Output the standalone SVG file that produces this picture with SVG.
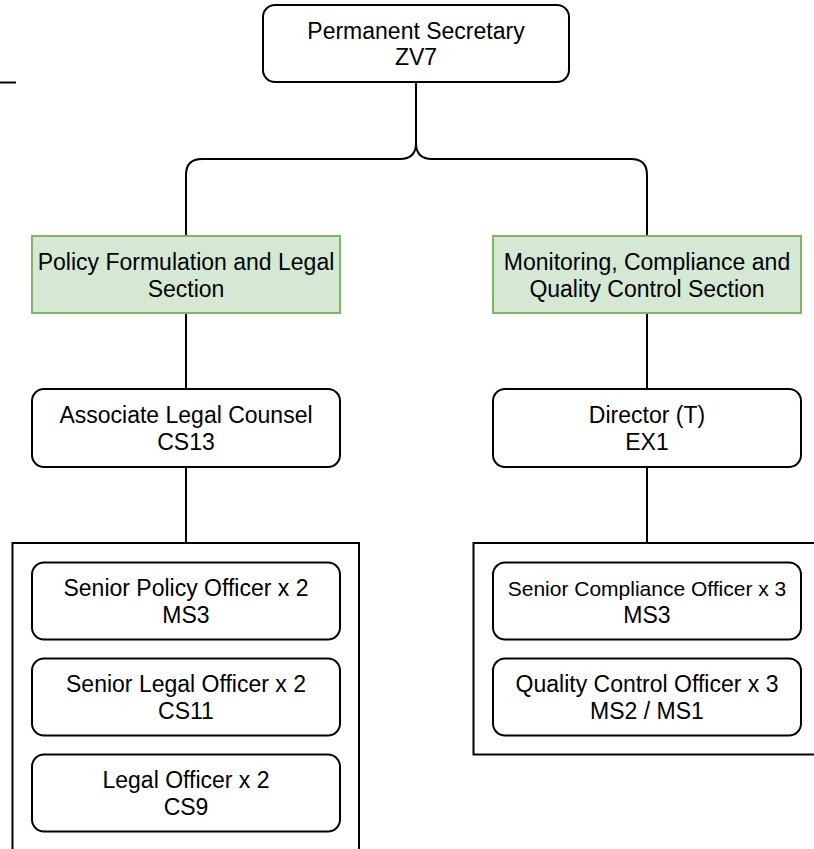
<svg xmlns="http://www.w3.org/2000/svg" width="814" height="849" viewBox="0 0 814 849">
<style>
.n{fill:#fff;stroke:#000;stroke-width:2}
.g{fill:#d5e8d4;stroke:#82b366;stroke-width:2}
.c{fill:#fff;stroke:#000;stroke-width:2}
.e{fill:none;stroke:#000;stroke-width:2}
text{font-family:"Liberation Sans",Arial,sans-serif;font-size:23px;fill:#000;text-anchor:middle}
.s{font-size:21px}
</style>
<rect width="814" height="849" fill="#fff"/>
<line x1="0" y1="82.5" x2="16" y2="82.5" stroke="#000" stroke-width="2"/>
<g id="connectors">
<path class="e" d="M416 82 V143 Q416 159 400 159 H202 Q186 159 186 175 V236"/>
<path class="e" d="M416 143 Q416 159 432 159 H631 Q647 159 647 175 V236"/>
<path class="e" d="M186 313 V389"/>
<path class="e" d="M647 313 V389"/>
<path class="e" d="M186 467 V543"/>
<path class="e" d="M647 467 V543"/>
</g>
<g id="container-left"><rect class="c" x="12.5" y="543" width="346.5" height="320"/></g>
<g id="container-right"><rect class="c" x="473.5" y="543" width="360" height="211.5"/></g>
<g id="permanent-secretary">
<rect class="n" x="263" y="5" width="306" height="77" rx="12"/>
<text x="416" y="38.5">Permanent Secretary</text>
<text x="416" y="65">ZV7</text>
</g>
<g id="policy-section">
<rect class="g" x="32" y="236" width="308" height="77"/>
<text x="186" y="270">Policy Formulation and Legal</text>
<text x="186" y="296.5">Section</text>
</g>
<g id="monitoring-section">
<rect class="g" x="493" y="236" width="308" height="77"/>
<text x="647" y="270">Monitoring, Compliance and</text>
<text x="647" y="296.5">Quality Control Section</text>
</g>
<g id="associate-legal-counsel">
<rect class="n" x="32" y="389" width="308" height="78" rx="12"/>
<text x="186" y="422.5">Associate Legal Counsel</text>
<text x="186" y="449.5">CS13</text>
</g>
<g id="director">
<rect class="n" x="493" y="389" width="308" height="78" rx="12"/>
<text x="647" y="422.5">Director (T)</text>
<text x="647" y="449.5">EX1</text>
</g>
<g id="senior-policy-officer">
<rect class="n" x="32" y="562.5" width="308" height="77" rx="12"/>
<text x="186" y="596">Senior Policy Officer x 2</text>
<text x="186" y="622.5">MS3</text>
</g>
<g id="senior-legal-officer">
<rect class="n" x="32" y="658.5" width="308" height="77" rx="12"/>
<text x="186" y="692">Senior Legal Officer x 2</text>
<text x="186" y="718.5">CS11</text>
</g>
<g id="legal-officer">
<rect class="n" x="32" y="754.5" width="308" height="77" rx="12"/>
<text x="186" y="788">Legal Officer x 2</text>
<text x="186" y="814.5">CS9</text>
</g>
<g id="senior-compliance-officer">
<rect class="n" x="493" y="562.5" width="308" height="77" rx="12"/>
<text class="s" x="647" y="596">Senior Compliance Officer x 3</text>
<text x="647" y="622.5">MS3</text>
</g>
<g id="quality-control-officer">
<rect class="n" x="493" y="658.5" width="308" height="77" rx="12"/>
<text x="647" y="692">Quality Control Officer x 3</text>
<text x="647" y="718.5">MS2 / MS1</text>
</g>
</svg>
